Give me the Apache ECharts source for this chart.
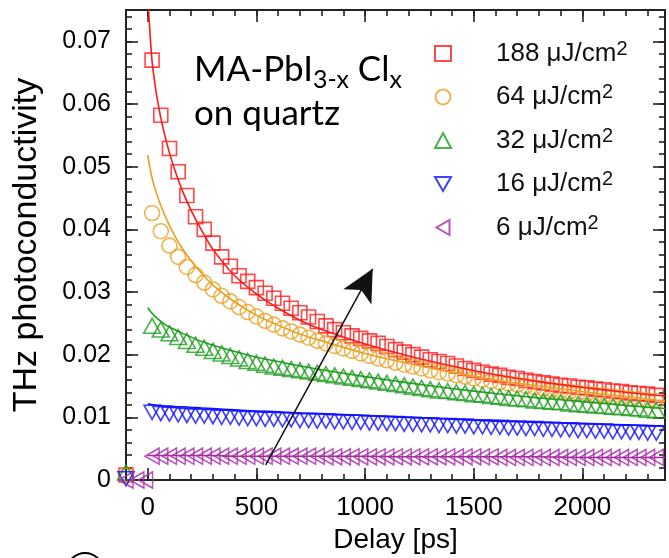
<!DOCTYPE html>
<html><head><meta charset="utf-8">
<script src="https://cdn.jsdelivr.net/npm/echarts@6/dist/echarts.min.js"></script>
<style>html,body{margin:0;padding:0;background:#fff}#c{width:669px;height:558px}</style>
</head><body><div id="c"></div><script>
// ---------------- data ----------------
const delays = [20,60,100,140,180,220,260,300,340,380,420,460,500,540,580,620,660,700,740,780,820,860,900,940,980,1020,1060,1100,1140,1180,1220,1260,1300,1340,1380,1420,1460,1500,1540,1580,1620,1660,1700,1740,1780,1820,1860,1900,1940,1980,2020,2060,2100,2140,2180,2220,2260,2300,2340];
const fluences = ['188','64','32','16','6'];
const red188 = [0.0670,0.0582,0.0529,0.0492,0.0454,0.0420,0.0400,0.0378,0.0356,0.0341,0.0326,0.0317,0.0307,0.0298,0.0290,0.0282,0.0274,0.0267,0.0260,0.0253,0.0246,0.0240,0.0235,0.0230,0.0226,0.0222,0.0218,0.0213,0.0208,0.0204,0.0200,0.0196,0.0192,0.0189,0.0186,0.0182,0.0178,0.0175,0.0172,0.0169,0.0167,0.0164,0.0162,0.0159,0.0157,0.0155,0.0153,0.0151,0.0150,0.0148,0.0147,0.0145,0.0144,0.0142,0.0141,0.0139,0.0138,0.0137,0.0135];
const orange64 = [0.0426,0.0397,0.0374,0.0356,0.0340,0.0327,0.0315,0.0304,0.0294,0.0285,0.0276,0.0268,0.0261,0.0254,0.0248,0.0242,0.0237,0.0232,0.0227,0.0222,0.0218,0.0214,0.0210,0.0206,0.0202,0.0198,0.0194,0.0191,0.0187,0.0184,0.0181,0.0178,0.0175,0.0172,0.0170,0.0167,0.0165,0.0162,0.0160,0.0158,0.0156,0.0154,0.0152,0.0150,0.0148,0.0146,0.0144,0.0142,0.0141,0.0139,0.0138,0.0136,0.0135,0.0133,0.0132,0.0130,0.0129,0.0127,0.0126];
const green32 = [0.0246,0.0240,0.0234,0.0228,0.0222,0.0216,0.0211,0.0206,0.0202,0.0198,0.0194,0.0190,0.0187,0.0184,0.0181,0.0179,0.0177,0.0175,0.0173,0.0171,0.0169,0.0167,0.0165,0.0163,0.0161,0.0159,0.0157,0.0155,0.0153,0.0151,0.0149,0.0147,0.0145,0.0143,0.0142,0.0140,0.0139,0.0137,0.0136,0.0134,0.0133,0.0131,0.0130,0.0129,0.0127,0.0126,0.0125,0.0124,0.0122,0.0121,0.0120,0.0119,0.0118,0.0117,0.0116,0.0115,0.0114,0.0112,0.0111];
const blue16 = [0.0108,0.0106,0.0105,0.0104,0.0103,0.0102,0.0102,0.0101,0.0100,0.0100,0.0099,0.0098,0.0098,0.0097,0.0097,0.0096,0.0096,0.0095,0.0095,0.0094,0.0094,0.0093,0.0093,0.0092,0.0092,0.0091,0.0091,0.0090,0.0090,0.0089,0.0089,0.0088,0.0088,0.0087,0.0087,0.0086,0.0086,0.0085,0.0085,0.0084,0.0084,0.0083,0.0083,0.0082,0.0082,0.0081,0.0081,0.0080,0.0080,0.0079,0.0079,0.0078,0.0078,0.0077,0.0077,0.0076,0.0076,0.0075,0.0075];
const purple6 = [0.0038,0.0038,0.0038,0.0038,0.0038,0.0038,0.0038,0.0038,0.0038,0.0038,0.0038,0.0038,0.0038,0.0038,0.0038,0.0038,0.0038,0.0038,0.0038,0.0038,0.0037,0.0037,0.0037,0.0037,0.0037,0.0037,0.0037,0.0037,0.0037,0.0037,0.0037,0.0037,0.0037,0.0037,0.0037,0.0037,0.0037,0.0037,0.0037,0.0037,0.0036,0.0036,0.0036,0.0036,0.0036,0.0036,0.0036,0.0036,0.0036,0.0036,0.0036,0.0036,0.0036,0.0036,0.0036,0.0036,0.0036,0.0036,0.0036];
// points before time zero
const preDelays = [[-100],[-100],[-100],[-100],[-100,-50,-10]];
const preValues = [[0.0008],[0.0007],[0.0012],[0.0002],[0,0,0]];
// fitted curves
const fitDelays = [0,10,20,30,40,60,80,100,130,160,200,250,300,400,500,600,700,800,1000,1200,1400,1600,1800,2000,2200,2380];
const fitRed = [0.0775,0.0715,0.0668,0.0640,0.0616,0.0578,0.0548,0.0522,0.0489,0.0461,0.0430,0.0397,0.0368,0.0326,0.0297,0.0274,0.0255,0.0240,0.0217,0.0198,0.0182,0.0168,0.0157,0.0148,0.0140,0.0134];
const fitOrange = [0.0519,0.0498,0.0482,0.0469,0.0458,0.0438,0.0421,0.0406,0.0386,0.0369,0.0350,0.0329,0.0311,0.0284,0.0263,0.0247,0.0233,0.0222,0.0202,0.0186,0.0172,0.0160,0.0150,0.0141,0.0133,0.0126];
const fitGreen = [0.0275,0.0270,0.0266,0.0262,0.0259,0.0253,0.0248,0.0244,0.0239,0.0234,0.0228,0.0221,0.0215,0.0205,0.0196,0.0189,0.0182,0.0176,0.0165,0.0155,0.0146,0.0138,0.0131,0.0125,0.0119,0.0114];
const fitBlue = [0.0121,0.0121,0.0120,0.0120,0.0119,0.0119,0.0118,0.0118,0.0117,0.0117,0.0116,0.0115,0.0114,0.0112,0.0110,0.0109,0.0107,0.0106,0.0103,0.0100,0.0097,0.0094,0.0092,0.0090,0.0088,0.0086];
const fitPurple = [0.0039,0.0039,0.0039,0.0039,0.0039,0.0039,0.0039,0.0039,0.0039,0.0039,0.0039,0.0039,0.0039,0.0038,0.0038,0.0038,0.0038,0.0038,0.0038,0.0037,0.0037,0.0037,0.0037,0.0036,0.0036,0.0036];
// axis ticks
const xMajor = [0,500,1000,1500,2000];
const xMinor = [-100,0,100,200,300,400,500,600,700,800,900,1000,1100,1200,1300,1400,1500,1600,1700,1800,1900,2000,2100,2200,2300];
const yMajor = [0,0.01,0.02,0.03,0.04,0.05,0.06,0.07];
const yMinor = [0,0.002,0.004,0.006,0.008,0.01,0.012,0.014,0.016,0.018,0.02,0.022,0.024,0.026,0.028,0.03,0.032,0.034,0.036,0.038,0.04,0.042,0.044,0.046,0.048,0.05,0.052,0.054,0.056,0.058,0.06,0.062,0.064,0.066,0.068,0.07,0.072,0.074];
// arrow annotation (data coordinates)
const arrowFrom = [543, 0.0024];
const arrowTo = [1035, 0.0337];

// ---------------- styling ----------------
const colors = ['#ff1a1a','#eba024','#1f9e1f','#1010ff','#a82aa8'];
const symbols = ['rect','circle','triangle','path://M0,0L2,0L1,1.732Z','path://M1.732,0L1.732,2L0,1Z'];
const symSizes = [14,15,[17,15],[16,14],[14,16]];
const markerVals = [red188, orange64, green32, blue16, purple6];
const fitVals = [fitRed, fitOrange, fitGreen, fitBlue, fitPurple];
const names = fluences.map(f => f + ' μJ/cm²');
const XMIN = -100, XMAX = 2380, YMIN = 0, YMAX = 0.075;
const AX = '#222';
const FONT = 'Liberation Sans';

function xAx(pos, major, showLine, showLabel, extra) {
  const vals = major ? xMajor : xMinor;
  return Object.assign({
    type: 'value', min: XMIN, max: XMAX, position: pos,
    axisLine: { show: showLine, onZero: false, lineStyle: { color: AX, width: 2 } },
    axisTick: { show: true, inside: true, length: major ? 12 : 6, customValues: vals, lineStyle: { color: AX, width: 1.6 } },
    axisLabel: { show: showLabel, customValues: xMajor, color: '#000', fontSize: 26, fontFamily: FONT, margin: 15,
      formatter: v => String(v) },
    splitLine: { show: false }
  }, extra || {});
}
function yAx(pos, major, showLine, showLabel, extra) {
  const vals = major ? yMajor : yMinor;
  return Object.assign({
    type: 'value', min: YMIN, max: YMAX, position: pos,
    axisLine: { show: showLine, onZero: false, lineStyle: { color: AX, width: 2 } },
    axisTick: { show: true, inside: true, length: major ? 12 : 6, customValues: vals, lineStyle: { color: AX, width: 1.6 } },
    axisLabel: { show: showLabel, customValues: yMajor, color: '#000', fontSize: 25, fontFamily: FONT, margin: 15,
      formatter: v => (v === 0 ? '0' : v.toFixed(2)) },
    splitLine: { show: false }
  }, extra || {});
}

const series = [];
for (let i = 0; i < 5; i++) {
  const pts = preDelays[i].map((t, k) => [t, preValues[i][k]]).concat(delays.map((t, k) => [t, markerVals[i][k]]));
  series.push({
    type: 'scatter', name: names[i], data: pts, xAxisIndex: 0, yAxisIndex: 0,
    symbol: symbols[i], symbolSize: symSizes[i],
    itemStyle: { color: 'rgba(255,255,255,0)', borderColor: colors[i], borderWidth: 1.6 },
    emphasis: { disabled: true }, z: 3
  });
}
for (let i = 0; i < 5; i++) {
  const s = {
    type: 'line', name: 'fit' + fluences[i], data: fitDelays.map((t, k) => [t, fitVals[i][k]]),
    xAxisIndex: 0, yAxisIndex: 0, showSymbol: false, symbol: 'none', smooth: 0.3,
    lineStyle: { color: colors[i], width: 1.6 }, emphasis: { disabled: true }, silent: true, z: 4
  };
  if (i === 4) {
    s.markLine = {
      silent: true, symbol: ['none', 'arrow'], symbolSize: [24, 32], animation: false,
      lineStyle: { color: '#111', width: 1.5, type: 'solid' }, label: { show: false },
      emphasis: { disabled: true },
      data: [[{ coord: arrowFrom }, { coord: arrowTo }]]
    };
  }
  series.push(s);
}

const chart = echarts.init(document.getElementById('c'), null, { renderer: 'canvas' });
chart.setOption({
  animation: false,
  backgroundColor: '#fff',
  grid: { left: 126, right: 4, top: 10, bottom: 78, containLabel: false, outerBoundsMode: 'none' },
  title: {
    text: '{a|MA-PbI}{s|3-x}{a| Cl}{s|x}\n{a|on quartz}',
    left: 194, top: 48, padding: 0,
    textStyle: {
      rich: {
        a: { fontFamily: 'Lato', fontSize: 35, fontWeight: 'normal', lineHeight: 44, color: '#000' },
        s: { fontFamily: 'Lato', fontSize: 25, fontWeight: 'normal', lineHeight: 14, verticalAlign: 'bottom', color: '#000' }
      }
    }
  },
  legend: {
    data: names, orient: 'vertical', left: 429, top: 34, padding: 5,
    itemWidth: 16, itemHeight: 15, itemGap: 16, selectedMode: false,
    formatter: name => '{n|' + name.replace('²', '') + '}{s|2}',
    textStyle: {
      rich: {
        n: { fontFamily: FONT, fontSize: 26, color: '#111', lineHeight: 29, padding: [0, 0, 0, 40] },
        s: { fontFamily: FONT, fontSize: 20, color: '#111', lineHeight: 4, verticalAlign: 'top' }
      }
    }
  },
  xAxis: [
    xAx('bottom', true, true, true, { name: 'Delay [ps]', nameLocation: 'middle', nameGap: 46,
      nameTextStyle: { fontFamily: FONT, fontSize: 28, color: '#000' } }),
    xAx('bottom', false, false, false),
    xAx('top', true, true, false),
    xAx('top', false, false, false)
  ],
  yAxis: [
    yAx('left', true, true, true, { name: 'THz photoconductivity', nameLocation: 'middle', nameGap: 82,
      nameTextStyle: { fontFamily: FONT, fontSize: 34, color: '#000' } }),
    yAx('left', false, false, false),
    yAx('right', true, true, false),
    yAx('right', false, false, false)
  ],
  graphic: [
    { type: 'circle', shape: { cx: 85, cy: 571, r: 18 }, style: { fill: 'none', stroke: '#000', lineWidth: 2 } }
  ],
  series: series
});
</script></body></html>
